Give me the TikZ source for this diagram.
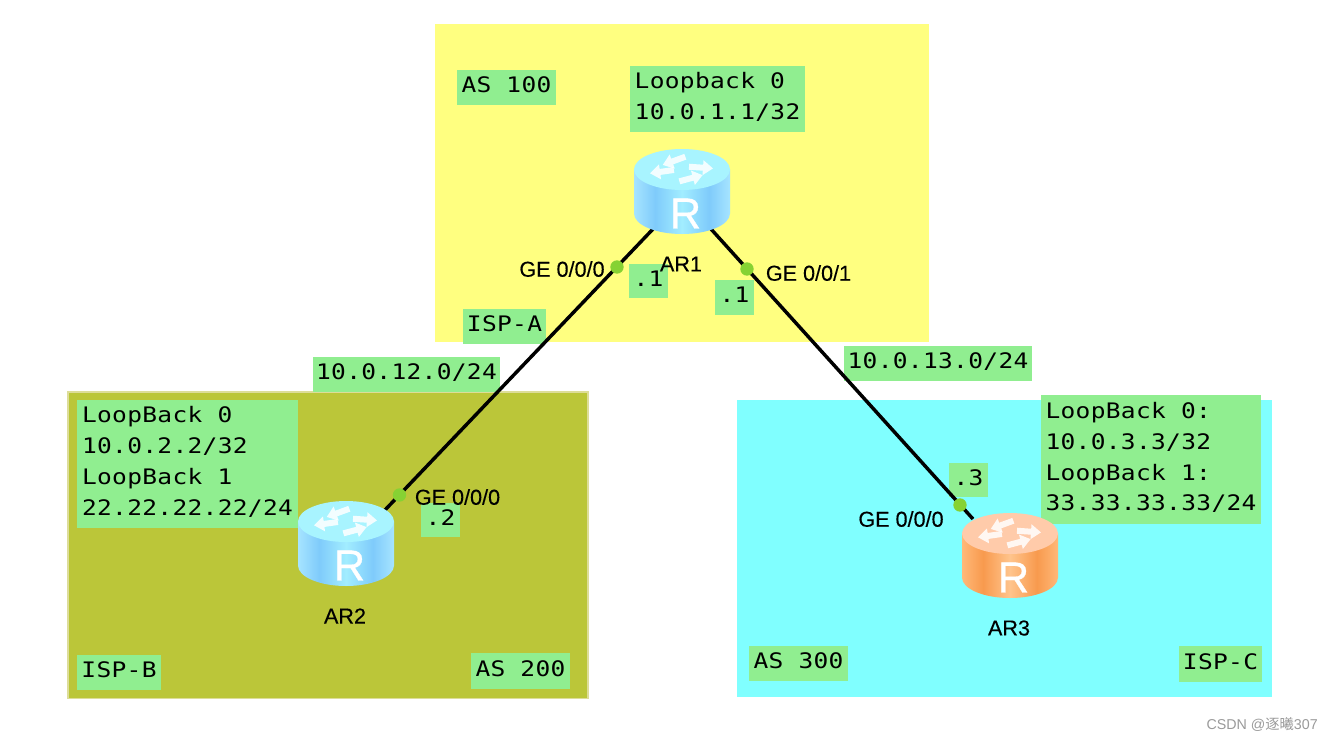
\documentclass[tikz,border=0pt]{standalone}
\usepackage{fontspec}
\setmainfont{Liberation Sans}
\newfontfamily\lblmono[FakeStretch=1.15,LetterSpace=1.5]{DejaVu Sans Mono}
\newfontfamily\ifnamefont[FakeBold=0.25]{Liberation Sans}
\newfontfamily\rfont[FakeBold=0.7]{Liberation Sans}
\newfontfamily\cjkf{Noto Sans CJK SC}
\definecolor{isoA}{HTML}{FFFF80}
\definecolor{isoB}{HTML}{BBC639}
\definecolor{isoBb}{HTML}{DDDD99}
\definecolor{isoC}{HTML}{80FFFF}
\definecolor{lblg}{HTML}{90EE90}
\definecolor{portg}{HTML}{86D233}
\definecolor{rbE}{HTML}{A6E4FF}
\definecolor{rbD}{HTML}{7FCBFB}
\definecolor{rbM}{HTML}{A2EDFF}
\definecolor{rblueT}{HTML}{A8F4FF}
\definecolor{roE}{HTML}{FFB878}
\definecolor{roD}{HTML}{F89A4E}
\definecolor{roM}{HTML}{FFC48C}
\definecolor{rorT}{HTML}{FFCBAA}
\definecolor{wmk}{HTML}{9A9A9A}
\pgfdeclarehorizontalshading{rblueshade}{100bp}{
  color(0bp)=(rbE); color(25bp)=(rbE); color(36bp)=(rbD); color(50bp)=(rbM);
  color(64bp)=(rbD); color(75bp)=(rbE); color(100bp)=(rbE)}
\pgfdeclarehorizontalshading{rorangeshade}{100bp}{
  color(0bp)=(roE); color(25bp)=(roE); color(36bp)=(roD); color(50bp)=(roM);
  color(64bp)=(roD); color(75bp)=(roE); color(100bp)=(roE)}
\tikzset{
  x=0.75pt,y=-0.75pt,
  area/.style={anchor=north west,inner sep=0pt,outer sep=0pt},
  lbl/.style={anchor=north west,fill=lblg,inner sep=0pt,outer sep=0pt,align=left,text=black,
    font=\fontsize{16pt}{23.2pt}\selectfont\lblmono,
    execute at begin node={\rule{0pt}{12.5pt}},
    execute at end node={\rule[-4.6pt]{0pt}{1pt}}},
  ifname/.style={inner sep=0pt,font=\fontsize{16.2pt}{19pt}\selectfont\ifnamefont,text=black},
  port/.style={circle,fill=portg,inner sep=0pt,minimum size=10pt},
  link/.style={line width=2.6pt,black},
  routerbox/.style={inner sep=0pt,minimum width=72pt,minimum height=64pt},
  rarrow/.style={fill=white,opacity=.85},
  pics/router/.style n args={2}{code={
    \shade[shading=#1]
      (-48,-22) -- (-48,22) arc[start angle=180,end angle=0,x radius=48,y radius=20.5] -- (48,-22) -- cycle;
    \fill[#2] (0,-22) ellipse[x radius=48,y radius=20.5];
    \foreach \mx/\my/\rot in {-19/-20/188, 18/-24/-4, -7/-31/200, 8/-13/15}{
      \begin{scope}[shift={(\mx,\my)},rotate=\rot]
      \fill[rarrow] (-11,-3) -- (3,-3) -- (3,-7.5) -- (13,0) -- (3,7.5) -- (3,3) -- (-11,3) -- cycle;
      \end{scope}}
    \node[text=white,inner sep=0pt,font=\fontsize{32.5pt}{33pt}\selectfont\rfont] at (3.5,22) {R};
  }},
}
\begin{document}
\begin{tikzpicture}
\useasboundingbox (0,0) rectangle (1332,740);
\fill[white] (0,0) rectangle (1332,740);
% areas
\node[area,fill=isoA,minimum width=370.5pt,minimum height=238.5pt] (asa) at (435,24) {};
\node[area,fill=isoB,draw=isoBb,line width=1.2pt,minimum width=390pt,minimum height=230pt] (asb) at (68,392) {};
\node[area,fill=isoC,minimum width=401.5pt,minimum height=223pt] (asc) at (737,400) {};
% routers (anchors for the links)
\node[routerbox] (r1) at (682,191.5) {};
\node[routerbox] (r2) at (346,543.5) {};
\node[routerbox] (r3) at (1010,555.5) {};
\coordinate (r1sw) at (653,229);
\coordinate (r1se) at (711,229);
\coordinate (r2ne) at (385,510);
\coordinate (r3nw) at (973,519);
% labels
\node[lbl,minimum width=74.25pt,minimum height=26.25pt] (t100) at (457,70) {AS 100};
\node[lbl,minimum width=131.25pt,minimum height=49.5pt] (lb1) at (630,66) {Loopback 0\\10.0.1.1/32};
\node[lbl,minimum width=29.25pt,minimum height=25.5pt] (d1a) at (629,264) {.1};
\node[lbl,minimum width=29.25pt,minimum height=26.25pt] (d1b) at (715,280) {.1};
\node[lbl,minimum width=62.25pt,minimum height=26.25pt] (ispa) at (463,309) {ISP-A};
\node[lbl,minimum width=140.25pt,minimum height=26.25pt] (n12) at (313,357) {10.0.12.0/24};
\node[lbl,minimum width=141pt,minimum height=26.25pt] (n13) at (844,346) {10.0.13.0/24};
\node[lbl,minimum width=165.75pt,minimum height=96pt] (lb2) at (77,400) {LoopBack 0\\10.0.2.2/32\\LoopBack 1\\22.22.22.22/24};
\node[lbl,minimum width=29.25pt,minimum height=25.5pt] (d2) at (421,503) {.2};
\node[lbl,minimum width=29.25pt,minimum height=25.5pt] (d3) at (949,463) {.3};
\node[lbl,minimum width=165pt,minimum height=96.75pt] (lb3) at (1041,395) {LoopBack 0:\\10.0.3.3/32\\LoopBack 1:\\33.33.33.33/24};
\node[lbl,minimum width=63pt,minimum height=26.25pt] (ispb) at (77,655) {ISP-B};
\node[lbl,minimum width=74.25pt,minimum height=27pt] (t200) at (471,653) {AS 200};
\node[lbl,minimum width=74.25pt,minimum height=26.25pt] (t300) at (749,646) {AS 300};
\node[lbl,minimum width=62.25pt,minimum height=27pt] (ispc) at (1179,646) {ISP-C};
% links
\draw[link] (r1sw) -- (r2ne);
\draw[link] (r1se) -- (r3nw);
% ports
\node[port] (p1a) at (617,267) {};
\node[port] (p1b) at (747,269) {};
\node[port] (p2) at (399.5,495) {};
\node[port] (p3) at (960,505) {};
% router icons
\pic at (r1) {router={rblueshade}{rblueT}};
\pic at (r2) {router={rblueshade}{rblueT}};
\pic at (r3) {router={rorangeshade}{rorT}};
% interface and router names
\node[ifname] (if1a) at (562,269) {GE 0/0/0};
\node[ifname] (if1b) at (808.5,273) {GE 0/0/1};
\node[ifname] (if2) at (457.5,497) {GE 0/0/0};
\node[ifname] (if3) at (901,519) {GE 0/0/0};
\node[ifname] (n1) at (681,264) {AR1};
\node[ifname] (n2) at (345,616) {AR2};
\node[ifname] (n3) at (1009,628) {AR3};
% watermark
\node[inner sep=0pt,text=wmk,font=\fontsize{10.7pt}{13pt}\selectfont,anchor=east] (wm) at (1318,724) {CSDN @{\cjkf 逐曦}307};
\end{tikzpicture}
\end{document}
